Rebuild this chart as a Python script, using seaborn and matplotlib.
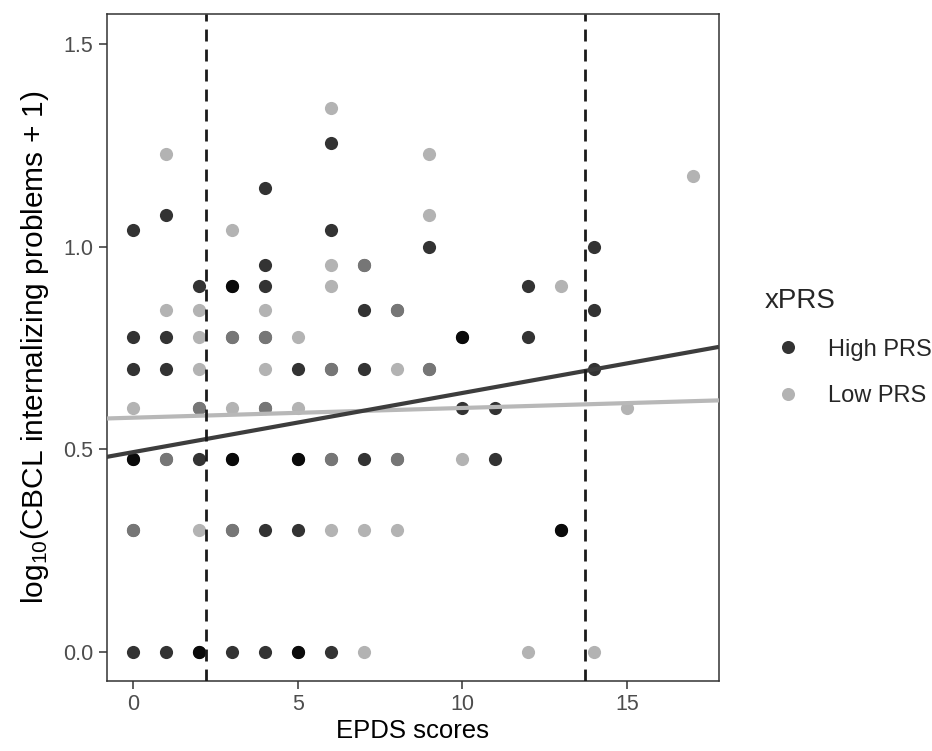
import numpy as np
import pandas as pd
import matplotlib
matplotlib.use("Agg")
import matplotlib.pyplot as plt
from matplotlib.lines import Line2D
import seaborn as sns

# EPDS score and raw CBCL internalizing score for each child, per PRS group
high_epds = [0, 0, 0, 0, 0, 0, 0,
             1, 1, 1, 1, 1,
             2, 2, 2, 2, 2,
             3, 3, 3, 3, 3, 3, 3,
             4, 4, 4, 4, 4, 4, 4,
             5, 5, 5, 5, 5, 5,
             6, 6, 6, 6, 6,
             7, 7, 7, 7,
             8, 8,
             9, 9,
             10, 10, 10,
             11, 11,
             12, 12,
             13, 13,
             14, 14, 14]
high_cbcl = [10, 5, 4, 2, 2, 1, 0,
             11, 5, 4, 2, 0,
             7, 3, 2, 0, 0,
             7, 7, 5, 2, 2, 1, 0,
             13, 8, 7, 5, 3, 1, 0,
             4, 2, 2, 1, 0, 0,
             17, 10, 4, 2, 0,
             8, 6, 4, 2,
             6, 2,
             9, 4,
             5, 5, 3,
             3, 2,
             7, 5,
             1, 1,
             9, 6, 4]

low_epds = [0, 0,
            1, 1, 1,
            2, 2, 2, 2, 2,
            3, 3, 3, 3,
            4, 4, 4, 4,
            5, 5,
            6, 6, 6, 6, 6, 6,
            7, 7, 7,
            8, 8, 8, 8,
            9, 9, 9,
            10,
            12,
            13,
            14,
            15,
            17]
low_cbcl = [3, 1,
            16, 6, 2,
            6, 5, 4, 3, 1,
            10, 5, 3, 1,
            6, 5, 4, 3,
            5, 3,
            21, 8, 7, 4, 2, 1,
            8, 1, 0,
            6, 4, 2, 1,
            16, 11, 4,
            2,
            0,
            7,
            0,
            3,
            14]

groups = ["High PRS", "Low PRS"]
# fitted lines (intercept at EPDS = 0, slope per EPDS point)
fit_intercepts = [0.493, 0.578]
fit_slopes = [0.0146, 0.0024]
epds_cutoffs = [2.21, 13.72]

point_colors = ["#000000", "#939393"]
point_alphas = [0.8, 0.7]
legend_colors = ["#333333", "#b3b3b3"]
line_colors = ["#3d3d3d", "#b8b8b8"]

df = pd.concat([
    pd.DataFrame({"EPDS": high_epds, "CBCL": high_cbcl, "xPRS": groups[0]}),
    pd.DataFrame({"EPDS": low_epds, "CBCL": low_cbcl, "xPRS": groups[1]}),
], ignore_index=True)
df["logCBCL"] = np.log10(df["CBCL"] + 1)

sns.set_theme(style="white")
plt.rcParams["font.family"] = ["Liberation Sans", "DejaVu Sans"]
plt.rcParams["mathtext.fontset"] = "custom"
plt.rcParams["mathtext.rm"] = "Liberation Sans"
plt.rcParams["mathtext.it"] = "Liberation Sans"

fig = plt.figure(figsize=(9.32, 7.51), dpi=100)
ax = fig.add_axes([106.7 / 932, 1 - 680.7 / 751, (719 - 106.7) / 932, (680.7 - 14) / 751])

for g, c, a in zip(groups, point_colors, point_alphas):
    sns.scatterplot(data=df[df["xPRS"] == g], x="EPDS", y="logCBCL", color=c,
                    alpha=a, s=90, linewidth=0, legend=False, ax=ax, zorder=2)

# regression lines, low first so the high line sits on top
for i in [1, 0]:
    ax.axline((0, fit_intercepts[i]), slope=fit_slopes[i], color=line_colors[i],
              lw=3.0, zorder=3, solid_capstyle="butt")

for xc in epds_cutoffs:
    ax.axvline(xc, color="#1a1a1a", lw=2.0, ls=(0, (4.3, 2.9)), zorder=4)

ax.set_xlim(-0.81, 17.8)
ax.set_ylim(-0.0716, 1.575)
ax.set_xticks([0, 5, 10, 15])
ax.set_yticks([0.0, 0.5, 1.0, 1.5])
ax.set_yticklabels(["0.0", "0.5", "1.0", "1.5"])

for sp in ax.spines.values():
    sp.set_color("#333333")
    sp.set_linewidth(1.1)
ax.tick_params(direction="out", length=5.5, width=1.1, color="#333333",
               labelsize=15.5, labelcolor="#4d4d4d", pad=4,
               bottom=True, left=True)

ax.set_xlabel("EPDS scores", fontsize=18.5, color="black", labelpad=3)
ax.set_ylabel("log$_{10}$(CBCL internalizing problems + 1)", fontsize=21.5,
              color="black", labelpad=9)

handles = [Line2D([], [], marker="o", ls="", color=c, markersize=9.4,
                  markeredgewidth=0) for c in legend_colors]
leg = fig.legend(handles, groups, title="xPRS", loc="upper left",
                 bbox_to_anchor=(753 / 932, 1 - 276 / 751), frameon=False,
                 fontsize=17, title_fontsize=20, borderpad=0,
                 handlelength=1.95, handletextpad=0.72, labelspacing=1.05,
                 alignment="left")

fig.savefig("out.png", dpi=100)
